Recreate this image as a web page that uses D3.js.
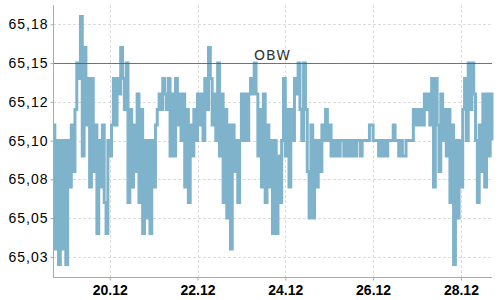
<!DOCTYPE html>
<html>
<head>
<meta charset="utf-8">
<script src="https://cdn.jsdelivr.net/npm/d3@7"></script>
<style>
  body { margin: 0; background: #fff; }
  svg { display: block; font-family: "DejaVu Sans", sans-serif; }
  .grid line { stroke: #ddd; stroke-dasharray: 3,2; }
  .axis path, .axis line { stroke: #aaa; }
  .y-axis text { font-size: 14px; fill: #000; letter-spacing: 1px; }
  .x-axis text { font-size: 14px; font-weight: bold; fill: #000; }
  .ref-label { font-size: 14px; fill: #333; letter-spacing: 1px; }
</style>
</head>
<body>
<script>
// hourly prices, starting 18.12 17:00
const startTime = new Date(2023, 11, 18, 17);
const prices = [
  65.11, 65.03, 65.10, 65.02, 65.10, 65.03, 65.10, 65.02, 65.10, 65.07,
  65.11, 65.08, 65.12, 65.15, 65.14, 65.18, 65.09, 65.16, 65.11, 65.14,
  65.07, 65.14, 65.08, 65.11, 65.04, 65.10, 65.07, 65.11, 65.06, 65.04,
  65.10, 65.09, 65.11, 65.14, 65.11, 65.14, 65.13, 65.16, 65.14, 65.12,
  65.15, 65.06, 65.12, 65.07, 65.11, 65.08, 65.13, 65.06, 65.12, 65.04,
  65.10, 65.05, 65.10, 65.04, 65.10, 65.07, 65.11, 65.12, 65.13, 65.12,
  65.14, 65.13, 65.12, 65.14, 65.09, 65.13, 65.09, 65.14, 65.11, 65.13,
  65.10, 65.13, 65.07, 65.12, 65.06, 65.11, 65.09, 65.12, 65.10, 65.13,
  65.11, 65.13, 65.10, 65.14, 65.12, 65.16, 65.14, 65.11, 65.13, 65.10,
  65.15, 65.09, 65.13, 65.06, 65.12, 65.05, 65.11, 65.03, 65.11, 65.08,
  65.10, 65.06, 65.10, 65.13, 65.10, 65.13, 65.10, 65.13, 65.14, 65.13,
  65.15, 65.13, 65.09, 65.12, 65.07, 65.13, 65.06, 65.11, 65.07, 65.10,
  65.04, 65.10, 65.04, 65.09, 65.06, 65.10, 65.14, 65.09, 65.12, 65.07,
  65.12, 65.10, 65.14, 65.13, 65.15, 65.12, 65.10, 65.15, 65.12, 65.08,
  65.05, 65.11, 65.05, 65.10, 65.07, 65.10, 65.08, 65.11, 65.10, 65.12,
  65.10, 65.11, 65.09, 65.10, 65.09, 65.10, 65.09, 65.10, 65.10, 65.09,
  65.10, 65.09, 65.10, 65.09, 65.10, 65.09, 65.10, 65.10, 65.09, 65.10,
  65.10, 65.10, 65.10, 65.11, 65.11, 65.10, 65.10, 65.10, 65.09, 65.10,
  65.09, 65.10, 65.09, 65.10, 65.10, 65.10, 65.11, 65.10, 65.10, 65.09,
  65.10, 65.09, 65.09, 65.10, 65.10, 65.10, 65.10, 65.12, 65.11, 65.12,
  65.11, 65.12, 65.11, 65.13, 65.12, 65.13, 65.11, 65.14, 65.07, 65.14,
  65.11, 65.08, 65.13, 65.10, 65.12, 65.09, 65.12, 65.06, 65.11, 65.02,
  65.10, 65.05, 65.10, 65.07, 65.12, 65.14, 65.10, 65.15, 65.12, 65.15,
  65.13, 65.10, 65.06, 65.11, 65.08, 65.13, 65.07, 65.13, 65.09, 65.13,
  65.10
];

const xTickDates = ['2023-12-20', '2023-12-22', '2023-12-24', '2023-12-26', '2023-12-28'];
const yTicks = [65.025, 65.05, 65.075, 65.1, 65.125, 65.15, 65.175];
const yTickLabels = ['65,03', '65,05', '65,08', '65,10', '65,12', '65,15', '65,18'];
const refLevel = 65.15;
const refLabel = 'OBW';

const width = 500, height = 300;
const margin = { top: 5, right: 8, bottom: 23, left: 53 };

const data = prices.map((p, i) => ({ t: d3.timeHour.offset(startTime, i), v: p }));

const svg = d3.select(document.body).append('svg')
  .attr('width', width)
  .attr('height', height);

const x = d3.scaleTime()
  .domain([startTime, d3.timeHour.offset(startTime, prices.length - 1)])
  .range([margin.left, width - margin.right]);

const y = d3.scaleLinear()
  .domain([65.012, 65.1875])
  .range([height - margin.bottom, margin.top]);

const xTicks = xTickDates.map(d => d3.timeParse('%Y-%m-%d')(d));

// grid
svg.append('g').attr('class', 'grid')
  .selectAll('line.h').data(yTicks).enter().append('line')
  .attr('x1', margin.left).attr('x2', width - margin.right)
  .attr('y1', d => Math.round(y(d)) + 0.5).attr('y2', d => Math.round(y(d)) + 0.5);

svg.append('g').attr('class', 'grid')
  .selectAll('line.v').data(xTicks).enter().append('line')
  .attr('y1', margin.top).attr('y2', height - margin.bottom)
  .attr('x1', d => Math.round(x(d)) + 0.5).attr('x2', d => Math.round(x(d)) + 0.5);

// price line
svg.append('path')
  .datum(data)
  .attr('fill', 'none')
  .attr('stroke', '#7fb3cc')
  .attr('stroke-width', 3)
  .attr('d', d3.line().curve(d3.curveStepAfter).x(d => x(d.t)).y(d => y(d.v)));

// reference line
svg.append('line')
  .attr('x1', margin.left).attr('x2', width - margin.right)
  .attr('y1', Math.round(y(refLevel)) + 0.5).attr('y2', Math.round(y(refLevel)) + 0.5)
  .attr('stroke', '#555').attr('stroke-opacity', 0.8);

svg.append('text')
  .attr('class', 'ref-label')
  .attr('x', (margin.left + width - margin.right) / 2)
  .attr('y', y(refLevel) - 3)
  .attr('text-anchor', 'middle')
  .text(refLabel);

// axes
svg.append('g')
  .attr('class', 'axis y-axis')
  .attr('transform', `translate(${margin.left + 0.5},0)`)
  .call(d3.axisLeft(y).tickValues(yTicks).tickSize(3).tickPadding(2)
    .tickFormat((d, i) => yTickLabels[i]))
  .call(g => g.select('.domain').attr('d', `M0,${margin.top}V${height - margin.bottom}`));

svg.append('g')
  .attr('class', 'axis x-axis')
  .attr('transform', `translate(0,${height - margin.bottom + 0.5})`)
  .call(d3.axisBottom(x).tickValues(xTicks).tickSize(3).tickPadding(5)
    .tickFormat(d3.timeFormat('%d.%m')))
  .call(g => g.select('.domain').attr('d', `M${margin.left},0H${width - margin.right}`));
</script>
</body>
</html>
